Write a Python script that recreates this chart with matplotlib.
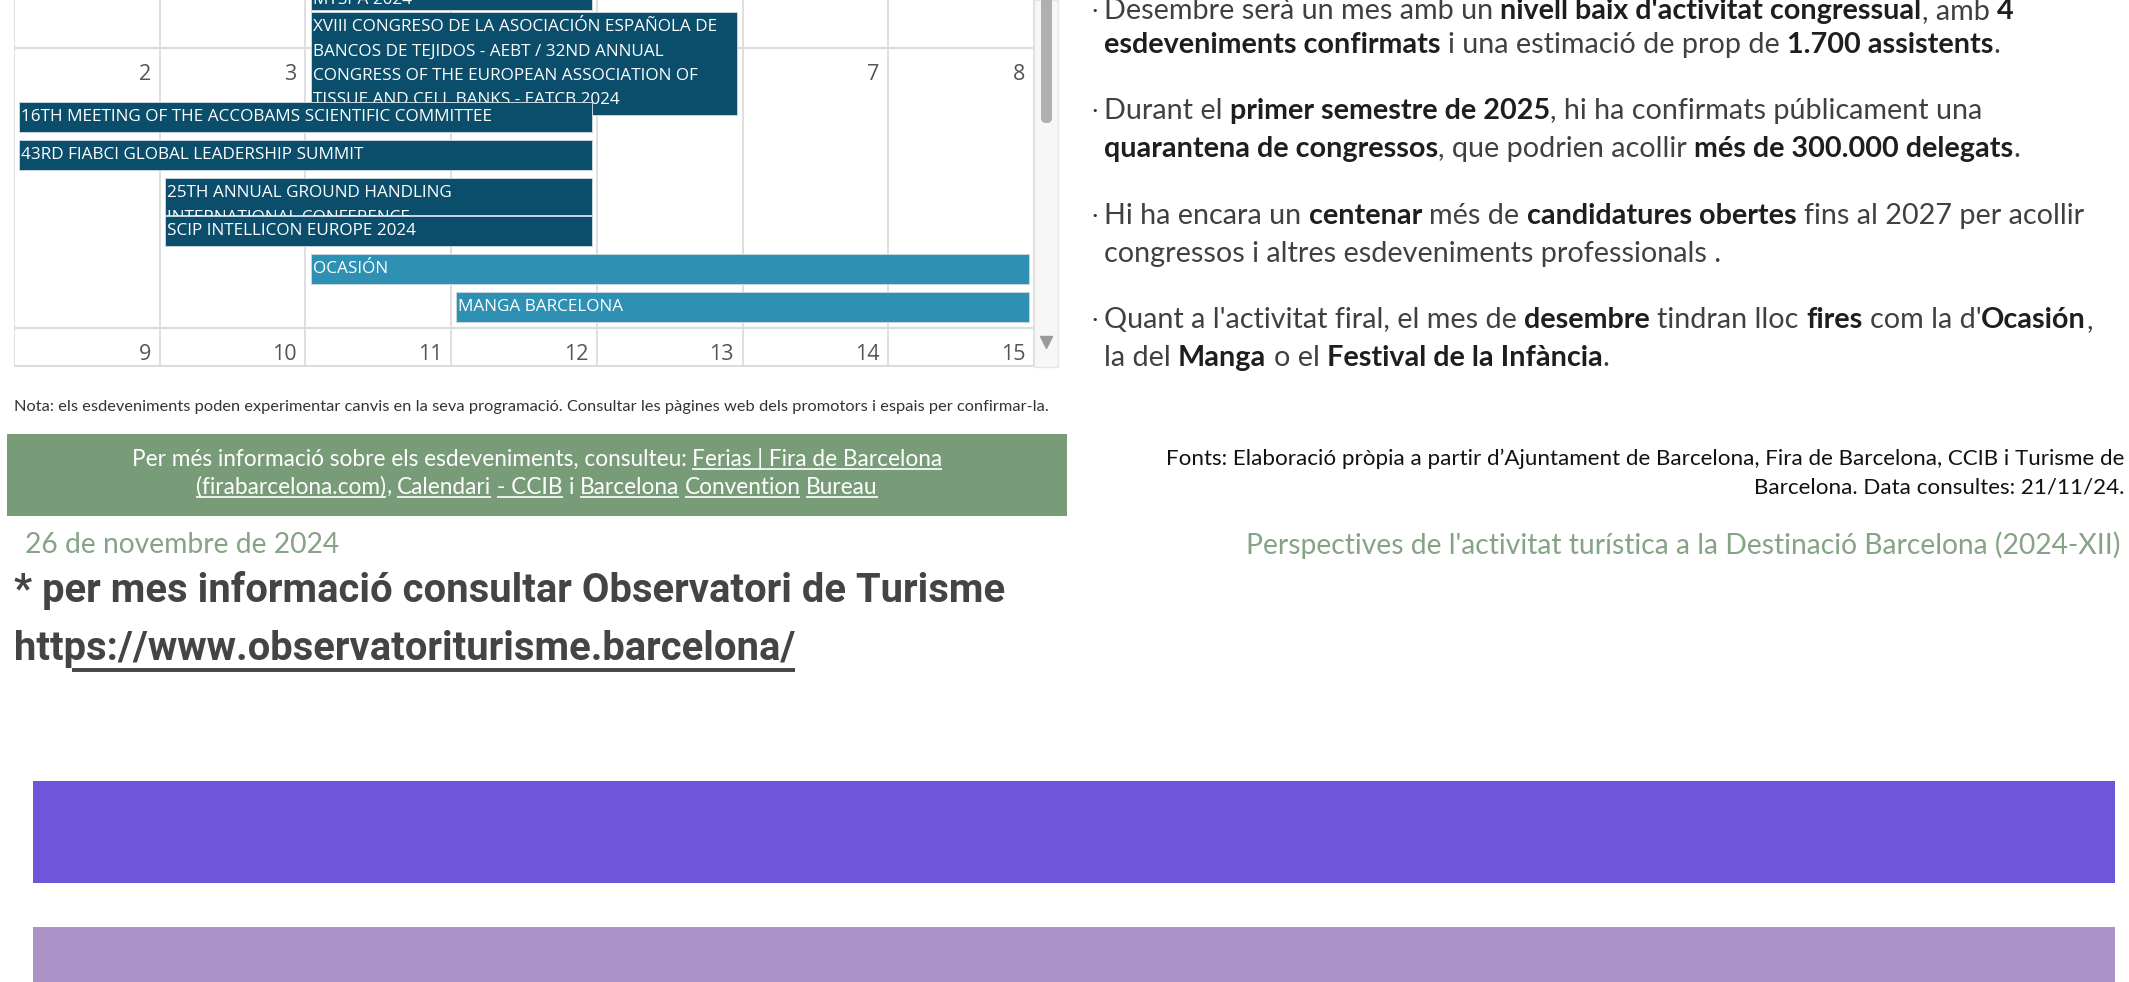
import matplotlib
matplotlib.use("Agg")
import matplotlib.pyplot as plt
from matplotlib.patches import Rectangle, FancyBboxPatch
from matplotlib.font_manager import FontProperties

W, H = 2129, 982

# dades del calendari (desembre 2024)
dies_setmana1 = [2, 3, 4, 5, 6, 7, 8]
dies_setmana2 = [9, 10, 11, 12, 13, 14, 15]

esdeveniments = [
    "MTSPA 2024",
    "XVIII CONGRESO DE LA ASOCIACIÓN ESPAÑOLA DE\nBANCOS DE TEJIDOS - AEBT / 32ND ANNUAL\n"
    "CONGRESS OF THE EUROPEAN ASSOCIATION OF\nTISSUE AND CELL BANKS - EATCB 2024",
    "16TH MEETING OF THE ACCOBAMS SCIENTIFIC COMMITTEE",
    "43RD FIABCI GLOBAL LEADERSHIP SUMMIT",
    "25TH ANNUAL GROUND HANDLING\nINTERNATIONAL CONFERENCE",
    "SCIP INTELLICON EUROPE 2024",
    "OCASIÓN",
    "MANGA BARCELONA",
]
dia_inici = [4, 4, 2, 2, 3, 3, 4, 5]
dia_fi = [5, 6, 5, 5, 5, 5, 8, 8]
tipus = ["congres", "congres", "congres", "congres", "congres", "congres", "fira", "fira"]

# text de la dreta: (text, negreta)
punts = [
    [[("Desembre serà un mes amb un ", False), ("nivell baix d'activitat congressual", True),
      (", amb ", False), ("4", True)],
     [("esdeveniments confirmats", True), (" i una estimació de prop de ", False),
      ("1.700 assistents", True), (".", False)]],
    [[("Durant el ", False), ("primer semestre de 2025", True),
      (", hi ha confirmats públicament una", False)],
     [("quarantena de congressos", True), (", que podrien acollir ", False),
      ("més de 300.000 delegats", True), (".", False)]],
    [[("Hi ha encara un ", False), ("centenar", True), (" més de ", False),
      ("candidatures obertes", True), (" fins al 2027 per acollir", False)],
     [("congressos i altres esdeveniments professionals .", False)]],
    [[("Quant a l'activitat firal, el mes de ", False), ("desembre", True),
      (" tindran lloc ", False), ("fires", True), (" com la d'", False), ("Ocasión", True), (",", False)],
     [("la del ", False), ("Manga", True), (" o el ", False), ("Festival de la Infància", True), (".", False)]],
]

nota = ("Nota: els esdeveniments poden experimentar canvis en la seva programació. "
        "Consultar les pàgines web dels promotors i espais per confirmar-la.")
enllacos = [
    [("Per més informació sobre els esdeveniments, consulteu: ", False), ("Ferias | Fira de Barcelona", True)],
    [("(firabarcelona.com)", True), (", ", False), ("Calendari", True), (" ", False), ("- CCIB", True),
     (" i ", False), ("Barcelona", True), (" ", False), ("Convention", True), (" ", False), ("Bureau", True)],
]
fonts = ["Fonts: Elaboració pròpia a partir d’Ajuntament de Barcelona, Fira de Barcelona, CCIB i Turisme de",
         "Barcelona. Data consultes: 21/11/24."]
data_doc = "26 de novembre de 2024"
titol_doc = "Perspectives de l'activitat turística a la Destinació Barcelona (2024-XII)"
mes_info = "* per mes informació consultar Observatori de Turisme"
url = "https://www.observatoriturisme.barcelona/"

# ---------------------------------------------------------------
fig = plt.figure(figsize=(W / 100, H / 100), dpi=100)
fig.patch.set_facecolor("white")
ax = fig.add_axes([0, 0, 1, 1])
ax.set_xlim(0, W)
ax.set_ylim(H, 0)
ax.axis("off")

renderer = fig.canvas.get_renderer()


def ample(s, prop):
    w1 = renderer.get_text_width_height_descent("x" + s + "x", prop, ismath=False)[0]
    w0 = renderer.get_text_width_height_descent("xx", prop, ismath=False)[0]
    return w1 - w0


def linia_runs(x, y, runs, fam, size, color, bold_color=None, underline=False, center=False):
    reg = FontProperties(family=fam, size=size)
    neg = FontProperties(family=fam, size=size, weight="bold")
    total = sum(ample(s, neg if b and not underline else reg) for s, b in runs)
    if center:
        x = x - total / 2
    for s, b in runs:
        p = neg if (b and not underline) else reg
        lead = len(s) - len(s.lstrip())
        core = s.strip()
        x0 = x + ample(s[:lead], p)
        if core:
            c = bold_color if (b and bold_color) else color
            ax.text(x0, y, core, fontproperties=p, color=c, va="center", ha="left")
            if underline and b:
                ax.plot([x0, x0 + ample(core, p)], [y + size * 0.62, y + size * 0.62],
                        color=color, lw=1.2, solid_capstyle="butt")
        x += ample(s, p)


# ---- calendari ----
cal = fig.add_axes([14 / W, 1 - 367 / H, 1020 / W, 367 / H])
cal.set_xlim(0, 7)
cal.set_ylim(367, 0)
cal.axis("off")
cal.set_zorder(2)

for i in range(8):
    cal.axvline(i, color="#dcdcdc", lw=1.3, zorder=1)
for yy in [47.5, 328, 366]:
    cal.axhline(yy, color="#dcdcdc", lw=1.6, zorder=1)

for i, d in enumerate(dies_setmana1):
    cal.text(i + 1 - 0.06, 75, str(d), ha="right", va="center", fontsize=15.5,
             family="Open Sans", color="#555555", zorder=1.5)
for i, d in enumerate(dies_setmana2):
    cal.text(i + 1 - 0.06, 354, str(d), ha="right", va="center", fontsize=15.5,
             family="Open Sans", color="#555555", zorder=1.5)

# posició vertical de cada barra (px) i alçada
dalt_px = [-12, 12, 102, 140, 178, 216, 254, 292]
alt_px = [22, 103, 30, 30, 37, 30, 30, 30]
colors = {"congres": "#0a4e6c", "fira": "#2e91b4"}

for k, nom in enumerate(esdeveniments):
    c0 = dia_inici[k] - dies_setmana1[0]
    c1 = dia_fi[k] - dies_setmana1[0]
    top = dalt_px[k]
    h = alt_px[k]
    bars = cal.barh(top + h / 2, c1 - c0 + 1 - 0.07, left=c0 + 0.035, height=h,
                    color=colors[tipus[k]], edgecolor="#c8d6dc", linewidth=0.7,
                    zorder=3 + 2 * k)
    patch = bars.patches[0]
    y0 = top + 15 if k > 0 else 0
    for j, lin in enumerate(nom.split("\n")):
        t = cal.text(c0 + 0.035 + 0.015, y0 + 24.5 * j, lin, ha="left", va="center",
                     fontsize=12.3, family="Open Sans", color="white", zorder=4 + 2 * k)
        t.set_clip_path(patch)

# barra de desplaçament
ax.add_patch(Rectangle((1034, 0), 24, 367, facecolor="#f7f7f7", edgecolor="#e6e6e6", lw=1, zorder=1))
ax.add_patch(FancyBboxPatch((1041, -20), 11, 143, boxstyle="round,pad=0,rounding_size=5",
                            facecolor="#b0b0b0", edgecolor="none", zorder=2))
ax.plot(1046, 342, marker="v", ms=8, color="#9a9a9a", zorder=2)

# ---- text de la dreta ----
y_linies = [[11, 45], [111, 149], [216, 254], [320, 358]]
for p, ys in zip(punts, y_linies):
    ax.text(1095, ys[0], "•", fontsize=8, color="#333333", ha="center", va="center")
    for runs, yy in zip(p, ys):
        linia_runs(1104, yy, runs, "Lato", 20.7, "#404040", bold_color="#1e1e1e")

# nota
ax.text(14, 407, nota, fontsize=11.8, family="Lato", color="#333333", va="center", ha="left")

# caixa verda
ax.add_patch(Rectangle((7, 434), 1060, 82, facecolor="#789b78", edgecolor="none"))
linia_runs(537, 459, enllacos[0], "Lato", 16.3, "white", underline=True, center=True)
linia_runs(537, 487, enllacos[1], "Lato", 16.3, "white", underline=True, center=True)

# fonts
ax.text(2124, 459, fonts[0], fontsize=16.1, family="Lato", color="#111111", ha="right", va="center")
ax.text(2124, 487, fonts[1], fontsize=16.1, family="Lato", color="#111111", ha="right", va="center")

# data i títol
ax.text(25, 545, data_doc, fontsize=20.3, family="Lato", color="#86a386", ha="left", va="center")
ax.text(2120, 545, titol_doc, fontsize=20.3, family="Lato", color="#86a386", ha="right", va="center")

# més informació
pr = FontProperties(family="Roboto", size=28.8, weight="bold")
ax.text(14, 591, mes_info, fontproperties=pr, color="#444444", ha="left", va="center")
ax.text(14, 649, url, fontproperties=pr, color="#444444", ha="left", va="center")
x_u = 14 + ample("htt", pr) + 8
ax.plot([x_u, 14 + ample(url, pr)], [670, 670], color="#444444", lw=2.8, solid_capstyle="butt")

# franges
ax.add_patch(Rectangle((33, 781), 2082, 102, facecolor="#6e55d9", edgecolor="none"))
ax.add_patch(Rectangle((33, 927), 2082, 60, facecolor="#ab92c7", edgecolor="none"))

fig.savefig("out.png", dpi=100)
